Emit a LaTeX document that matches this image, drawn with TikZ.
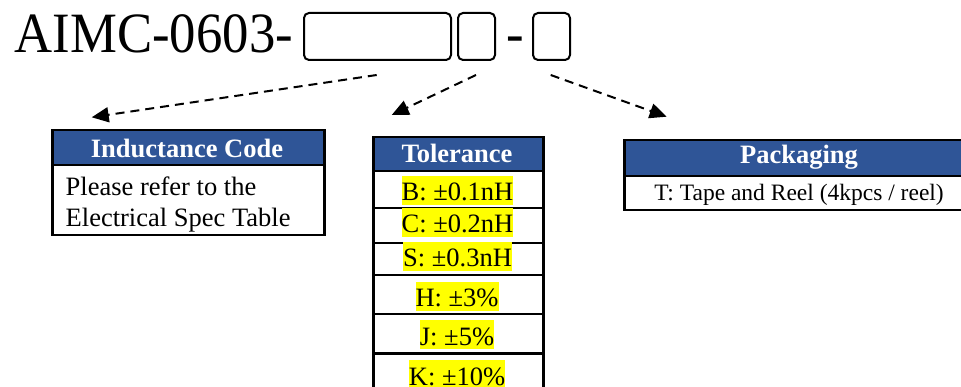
\documentclass[tikz,border=0pt]{standalone}
\usepackage{fontspec}
\setmainfont{Liberation Serif}
\usetikzlibrary{arrows.meta}
\definecolor{hdrblue}{RGB}{47,85,151}
\definecolor{hlyellow}{RGB}{255,255,0}
\begin{document}
\begin{tikzpicture}[x=1pt,y=-1pt,
  slot/.style={draw=black, line width=2pt, rounded corners=5pt, inner sep=0},
  hdrcell/.style={fill=hdrblue, draw=black, line width=2.5pt, anchor=north west, inner sep=0},
  bodycell/.style={fill=white, draw=black, line width=2.5pt, anchor=north west, inner sep=0},
  hdrtext/.style={text=white, font=\fontsize{26.5}{30}\selectfont\bfseries, inner sep=0, anchor=base},
  bodytext/.style={font=\fontsize{26.5}{30}\selectfont, inner sep=0, anchor=base west},
  hl/.style={fill=hlyellow, inner sep=0, anchor=base, text height=25pt, text depth=4pt, font=\fontsize{26.5}{30}\selectfont},
  guide/.style={draw=black, line width=2pt, dash pattern=on 9pt off 6pt, -{Triangle[length=17pt,width=15pt]}}
]
\useasboundingbox (0,0) rectangle (961,387);
\clip (0,0) rectangle (961,387);
% title
\node[anchor=base west, inner sep=0] (title) at (14.5,52.7) {\scalebox{0.925}[1]{\fontsize{57}{60}\selectfont AIMC-0603-}};
\node[slot, minimum width=147pt, minimum height=47pt] (s1) at (377.5,36.5) {};
\node[slot, minimum width=37pt, minimum height=47pt] (s2) at (476.5,36.5) {};
\node[anchor=base, inner sep=0] (dash) at (515.5,52.7) {\scalebox{0.925}[1]{\fontsize{57}{60}\selectfont -}};
\node[slot, minimum width=37pt, minimum height=47pt] (s3) at (551.5,36.5) {};
% arrow end points
\coordinate (a1s) at (376.7,75);
\coordinate (a1e) at (91.7,117.3);
\coordinate (a2s) at (476,75);
\coordinate (a2e) at (391.7,115);
\coordinate (a3s) at (550.7,75);
\coordinate (a3e) at (666.7,116.7);
\draw[guide] (a1s) -- (a1e);
\draw[guide] (a2s) -- (a2e);
\draw[guide] (a3s) -- (a3e);
% Inductance code table
\node[bodycell, minimum width=272pt, minimum height=70pt] (indb) at (51,164) {};
\node[hdrcell, minimum width=272pt, minimum height=35pt] (indh) at (51,129) {};
\node[hdrtext] (indht) at (187,157.5) {Inductance Code};
\node[bodytext] (indl1) at (65.5,196) {Please refer to the};
\node[bodytext] (indl2) at (65.5,227) {Electrical Spec Table};
% Tolerance table
\node[bodycell, minimum width=170pt, minimum height=37pt] (r1) at (372,170) {};
\node[bodycell, minimum width=170pt, minimum height=35pt] (r2) at (372,207) {};
\node[bodycell, minimum width=170pt, minimum height=32pt] (r3) at (372,242) {};
\node[bodycell, minimum width=170pt, minimum height=39pt] (r4) at (372,274) {};
\node[bodycell, minimum width=170pt, minimum height=39pt] (r5) at (372,313) {};
\node[bodycell, minimum width=170pt, minimum height=50pt] (r6) at (372,352) {};
\node[hdrcell, minimum width=170pt, minimum height=34pt] (tolh) at (372,136) {};
\node[hdrtext] (tolht) at (457,163) {Tolerance};
\node[hl] (tB) at (457.5,201) {B: ±0.1nH};
\node[hl] (tC) at (457.5,233) {C: ±0.2nH};
\node[hl] (tS) at (457.5,267) {S: ±0.3nH};
\node[hl] (tH) at (457,307) {H: ±3\%};
\node[hl] (tJ) at (457,345) {J: ±5\%};
\node[hl] (tK) at (457,385) {K: ±10\%};
% Packaging table
\node[bodycell, minimum width=360pt, minimum height=34pt] (pkb) at (623,175) {};
\node[hdrcell, minimum width=360pt, minimum height=36pt] (pkh) at (623,139) {};
\node[hdrtext] (pkht) at (799,164) {Packaging};
\node[font=\fontsize{23.5}{28}\selectfont, inner sep=0, anchor=base] (pkt) at (799,201) {T: Tape and Reel (4kpcs / reel)};
\end{tikzpicture}
\end{document}
